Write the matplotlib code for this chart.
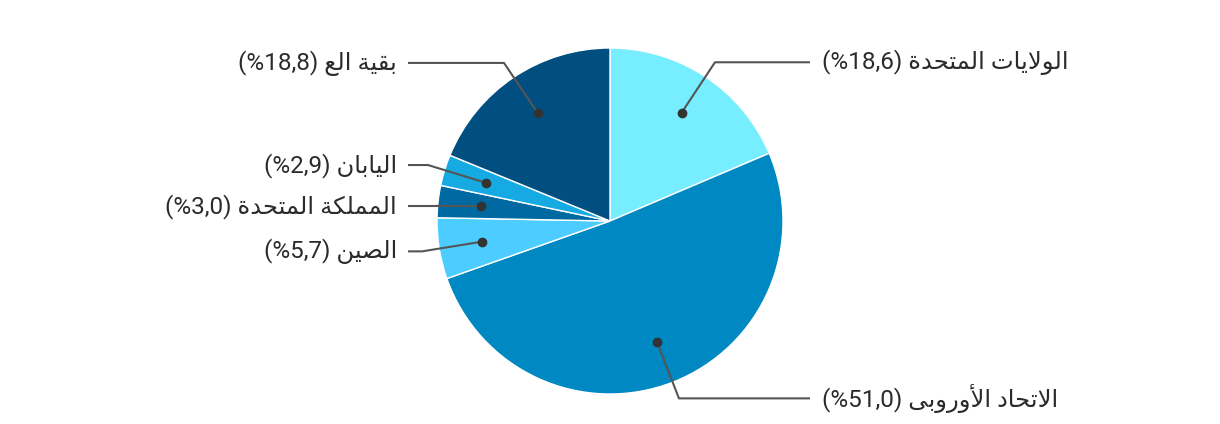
import numpy as np
import matplotlib
matplotlib.use("Agg")
import matplotlib.pyplot as plt

# data
names = ["الولايات المتحدة", "الاتحاد الأوروبى", "الصين", "المملكة المتحدة", "اليابان", "بقية الع"]
shares = [18.6, 51.0, 5.7, 3.0, 2.9, 18.8]
colors = ["#76EEFF", "#0088C2", "#4DCCFF", "#0069A1", "#16AAE2", "#004F80"]

# arabic presentation forms: isolated, final, initial, medial
FORMS = {
    'ا': (0xFE8D, 0xFE8E, None, None),
    'أ': (0xFE83, 0xFE84, None, None),
    'ب': (0xFE8F, 0xFE90, 0xFE91, 0xFE92),
    'ة': (0xFE93, 0xFE94, None, None),
    'ت': (0xFE95, 0xFE96, 0xFE97, 0xFE98),
    'ح': (0xFEA1, 0xFEA2, 0xFEA3, 0xFEA4),
    'د': (0xFEA9, 0xFEAA, None, None),
    'ر': (0xFEAD, 0xFEAE, None, None),
    'ص': (0xFEB9, 0xFEBA, 0xFEBB, 0xFEBC),
    'ع': (0xFEC9, 0xFECA, 0xFECB, 0xFECC),
    'ق': (0xFED5, 0xFED6, 0xFED7, 0xFED8),
    'ك': (0xFED9, 0xFEDA, 0xFEDB, 0xFEDC),
    'ل': (0xFEDD, 0xFEDE, 0xFEDF, 0xFEE0),
    'م': (0xFEE1, 0xFEE2, 0xFEE3, 0xFEE4),
    'ن': (0xFEE5, 0xFEE6, 0xFEE7, 0xFEE8),
    'و': (0xFEED, 0xFEEE, None, None),
    'ى': (0xFEEF, 0xFEF0, None, None),
    'ي': (0xFEF1, 0xFEF2, 0xFEF3, 0xFEF4),
    'لا': (0xFEFB, 0xFEFC, None, None),
    'لأ': (0xFEF7, 0xFEF8, None, None),
}


def shape(word):
    chars = []
    i = 0
    while i < len(word):
        if word[i] == 'ل' and i + 1 < len(word) and word[i + 1] in 'اأ':
            chars.append(word[i:i + 2])
            i += 2
        else:
            chars.append(word[i])
            i += 1
    out = []
    for k, c in enumerate(chars):
        f = FORMS.get(c)
        if f is None:
            out.append(c)
            continue
        prev = chars[k - 1] if k > 0 else None
        nxt = chars[k + 1] if k + 1 < len(chars) else None
        jp = prev in FORMS and FORMS[prev][2] is not None
        jn = nxt in FORMS and f[2] is not None
        if jp and jn:
            code = f[3]
        elif jp:
            code = f[1]
        elif jn:
            code = f[2]
        else:
            code = f[0]
        out.append(chr(code))
    return ''.join(out[::-1])


def rtl(text):
    return ' '.join(shape(w) for w in text.split()[::-1])


W, H = 1220, 424
fig = plt.figure(figsize=(W / 100, H / 100), dpi=100)
ax = fig.add_axes([0, 0, 1, 1])

cx, cy, r = 610, H - 221, 173
wedges, _ = ax.pie(shares, colors=colors, startangle=90, counterclock=False,
                   center=(cx, cy), radius=r,
                   wedgeprops=dict(edgecolor="white", linewidth=1))
ax.set_xlim(0, W)
ax.set_ylim(0, H)
ax.set_aspect("equal")
ax.axis("off")

font = ["Roboto", "DejaVu Sans"]
for w, name, v in zip(wedges, names, shares):
    ang = np.deg2rad((w.theta1 + w.theta2) / 2)
    ca, sa = np.cos(ang), np.sin(ang)
    dx, dy = cx + 0.75 * r * ca, cy + 0.75 * r * sa
    ex, ey = cx + 1.1 * r * ca, cy + 1.1 * r * sa
    if name == "المملكة المتحدة":
        ey = dy  # label pushed down to the dot level
    if ca >= 0:
        endx, tx, ha = cx + 200, cx + 212, "left"
    else:
        endx, tx, ha = cx - 202, cx - 213, "right"
    ax.plot([dx, ex, endx], [dy, ey, ey], color="#555555", lw=1.5,
            solid_capstyle="butt")
    ax.plot(dx, dy, "o", color="#333333", ms=6)
    label = "(%" + f"{v:.1f}".replace(".", ",") + ") " + rtl(name)
    ax.text(tx, ey, label, ha=ha, va="center", fontsize=17.5,
            color="#2b2b2b", family=font)

fig.savefig("out.png", dpi=100)
